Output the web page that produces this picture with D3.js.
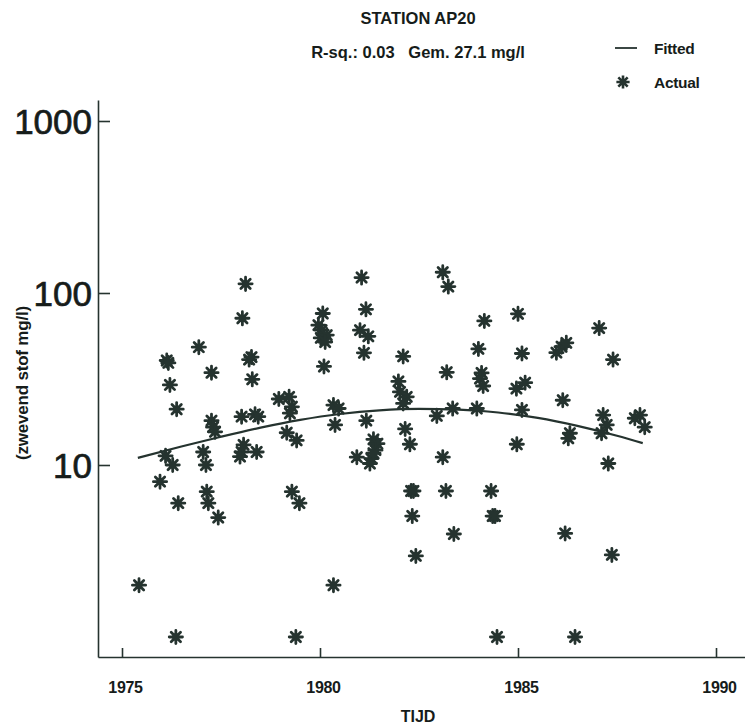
<!DOCTYPE html>
<html>
<head>
<meta charset="utf-8">
<script src="https://cdn.jsdelivr.net/npm/d3@7"></script>
<style>
  body { margin: 0; background: #fff; }
  text { font-family: "Liberation Sans", Arial, sans-serif; fill: #161c1a; }
</style>
</head>
<body>
<script>
// measured values (year, mg/l)
const years = [
  1975.43, 1975.96, 1976.10, 1976.28, 1976.13, 1976.17, 1976.21, 1976.38, 1976.42, 1976.36,
  1976.94, 1977.05, 1977.12, 1977.14, 1977.18, 1977.43, 1977.26, 1977.26, 1977.30, 1977.35,
  1978.12, 1978.04, 1978.21, 1978.27, 1978.29, 1978.02, 1978.36, 1978.44, 1978.07, 1978.02,
  1977.98, 1978.40, 1978.96, 1979.22, 1979.29, 1979.24, 1979.16, 1979.41, 1979.29, 1979.48,
  1979.39, 1980.07, 1979.96, 1980.04, 1980.02, 1980.17, 1980.13, 1980.10, 1980.34, 1980.47,
  1980.38, 1980.34, 1981.05, 1981.16, 1981.01, 1981.22, 1981.11, 1981.17, 1981.35, 1981.45,
  1981.40, 1981.30, 1981.26, 1981.35, 1980.93, 1982.10, 1981.98, 1982.02, 1982.19, 1982.10,
  1982.15, 1982.27, 1982.30, 1982.36, 1982.33, 1982.42, 1983.10, 1983.24, 1983.20, 1983.35,
  1982.95, 1983.10, 1983.18, 1983.38, 1984.15, 1984.00, 1984.08, 1984.04, 1984.12, 1983.96,
  1984.32, 1984.36, 1984.42, 1984.47, 1985.00, 1985.10, 1985.18, 1984.96, 1985.10, 1984.97,
  1985.97, 1986.10, 1986.22, 1986.13, 1986.31, 1986.27, 1986.19, 1986.44, 1987.05, 1987.40,
  1987.15, 1987.24, 1987.11, 1987.28, 1987.37, 1988.08, 1987.95, 1988.20
];
const values = [
  2.0, 8.0, 11.3, 10.0, 40.5, 39.2, 29.2, 21.1, 6.0, 1.0,
  48.4, 11.9, 10.0, 7.0, 6.0, 4.95, 34.4, 18.1, 16.6, 15.6,
  113, 71.3, 41.0, 42.4, 31.5, 19.1, 19.7, 19.1, 13.1, 11.9,
  11.2, 11.9, 24.2, 24.9, 21.8, 20.0, 15.4, 13.9, 7.0, 6.0,
  1.0, 76, 65, 60.8, 54.8, 56.9, 51.9, 37.4, 22.3, 21.3,
  17.1, 2.0, 123, 80.4, 60.8, 56.0, 44.9, 18.1, 14.1, 13.3,
  12.2, 10.9, 10.2, 11.7, 11.1, 42.8, 30.6, 26.6, 24.9, 22.8,
  16.2, 13.2, 7.06, 7.06, 5.05, 2.96, 132, 109, 34.6, 21.3,
  19.3, 11.1, 7.06, 3.97, 68.8, 47.3, 34.3, 31.8, 28.8, 21.3,
  7.06, 5.05, 5.05, 1.0, 75.7, 44.5, 30.1, 27.8, 20.9, 13.2,
  45, 48.7, 51.3, 23.8, 15.3, 14.3, 4.0, 1.0, 62.5, 41,
  19.5, 17.1, 15.3, 10.2, 3.0, 19.5, 18.7, 16.6
];

// fitted curve
const fitYears  = [1975.4, 1976.5, 1977.5, 1978.5, 1979.5, 1980.5, 1981.5, 1982.5, 1983.5, 1984.5, 1985.5, 1986.5, 1987.5, 1988.15];
const fitValues = [11.0, 12.8, 14.6, 16.5, 18.3, 19.8, 20.8, 21.2, 21.0, 20.2, 18.8, 16.9, 14.8, 13.4];

const xTicks = [1975, 1980, 1985, 1990];
const yTicks = [10, 100, 1000];

const w = 745;
const h = 728;
const ink = "#25332f";

const svg = d3.select("body")
  .append("svg")
  .attr("width", w)
  .attr("height", h);

const x = d3.scaleLinear().domain([1975, 1990]).range([122, 716]);
x.domain([x.invert(98), x.invert(745)]).range([98, 745]);

const y = d3.scaleLog().domain([1, 1000]).range([637, 121]);
y.domain([y.invert(657), y.invert(100)]).range([657, 100]);

// axes
const xAxis = svg.append("g")
  .attr("transform", "translate(0,657)")
  .call(d3.axisBottom(x).tickValues(xTicks).tickFormat(d3.format("d"))
    .tickSizeInner(-9).tickSizeOuter(0).tickPadding(25));
xAxis.selectAll("text")
  .attr("dx", 3)
  .style("font-size", "16px")
  .style("font-weight", "bold")
  .style("letter-spacing", "-0.3px");

const yAxis = svg.append("g")
  .attr("transform", "translate(98,0)")
  .call(d3.axisLeft(y).tickValues(yTicks).tickFormat(d3.format("d"))
    .tickSizeInner(-12).tickSizeOuter(0).tickPadding(6));
yAxis.selectAll("text")
  .style("font-size", "35px")
  .attr("stroke", "#161c1a")
  .attr("stroke-width", 0.7)
  .attr("dy", "0.36em");

svg.selectAll(".domain, .tick line")
  .attr("stroke", ink)
  .attr("stroke-width", 1.6);

// axis titles
svg.append("text")
  .attr("x", 418).attr("y", 722)
  .attr("text-anchor", "middle")
  .style("font-size", "16px").style("font-weight", "bold")
  .text("TIJD");

svg.append("text")
  .attr("transform", "translate(28,383) rotate(-90)")
  .attr("text-anchor", "middle")
  .style("font-size", "17px").style("font-weight", "bold")
  .style("letter-spacing", "-0.2px")
  .text("(zwevend stof mg/l)");

// title
svg.append("text")
  .attr("x", 418).attr("y", 24)
  .attr("text-anchor", "middle")
  .style("font-size", "16.5px").style("font-weight", "bold")
  .text("STATION AP20");

svg.append("text")
  .attr("x", 418).attr("y", 58)
  .attr("text-anchor", "middle")
  .style("font-size", "16.5px").style("font-weight", "bold")
  .attr("xml:space", "preserve")
  .text("R-sq.: 0.03   Gem. 27.1 mg/l");

// 8-armed star marker
const star8 = {
  draw(context, size) {
    const r = Math.sqrt(size) / 2;
    for (let i = 0; i < 4; i++) {
      const a = i * Math.PI / 4;
      context.moveTo(-r * Math.cos(a), -r * Math.sin(a));
      context.lineTo(r * Math.cos(a), r * Math.sin(a));
    }
  }
};
const starPath = d3.symbol().type(star8).size(175);

// fitted line
const line = d3.line()
  .x((d, i) => x(fitYears[i]))
  .y(d => y(d))
  .curve(d3.curveMonotoneX);

svg.append("path")
  .datum(fitValues)
  .attr("d", line)
  .attr("fill", "none")
  .attr("stroke", ink)
  .attr("stroke-width", 2.2);

// points
svg.selectAll(".pt")
  .data(values).enter()
  .append("path")
  .classed("pt", true)
  .attr("transform", (d, i) => `translate(${x(years[i])},${y(d)})`)
  .attr("d", starPath)
  .attr("fill", "none")
  .attr("stroke", ink)
  .attr("stroke-width", 2.8)
  .attr("stroke-linecap", "round");

// legend
svg.append("line")
  .attr("x1", 615).attr("x2", 637)
  .attr("y1", 48).attr("y2", 48)
  .attr("stroke", ink).attr("stroke-width", 1.8);
svg.append("text")
  .attr("x", 654).attr("y", 54)
  .style("font-size", "15.5px").style("font-weight", "bold")
  .style("letter-spacing", "-0.3px")
  .text("Fitted");

svg.append("path")
  .attr("transform", "translate(623,82)")
  .attr("d", starPath)
  .attr("fill", "none")
  .attr("stroke", ink)
  .attr("stroke-width", 2.6);
svg.append("text")
  .attr("x", 654).attr("y", 88)
  .style("font-size", "15.5px").style("font-weight", "bold")
  .style("letter-spacing", "-0.3px")
  .text("Actual");
</script>
</body>
</html>
